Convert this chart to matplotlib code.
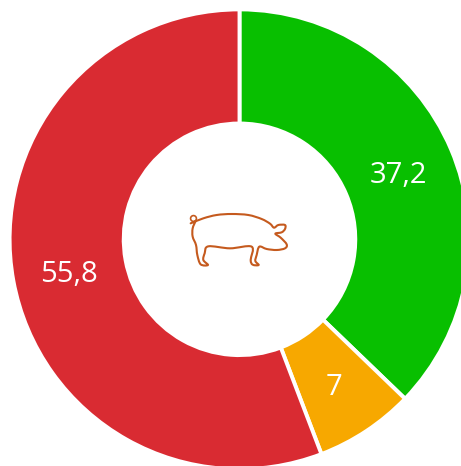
import math
import matplotlib
matplotlib.use("Agg")
import matplotlib.pyplot as plt
from matplotlib.path import Path
from matplotlib.patches import PathPatch

values = [37.2, 7, 55.8]
value_labels = ["37,2", "7", "55,8"]
colors = ["#08BF00", "#F7A800", "#D92B32"]

W, H = 461, 466
fig = plt.figure(figsize=(W / 100, H / 100), dpi=100, facecolor="white")
ax = fig.add_axes([0, 0, 1, 1])

cx, cy, R, r = 239.5, H - 239.3, 229.9, 115.8
ax.pie(
    values, colors=colors, startangle=90, counterclock=False,
    center=(cx, cy), radius=R, frame=True,
    wedgeprops=dict(width=R - r, edgecolor="white", linewidth=2.8),
)
ax.set_xlim(0, W)
ax.set_ylim(0, H)
ax.set_aspect("equal")
ax.axis("off")

cum = 0
for v, lab in zip(values, value_labels):
    a = math.radians((cum + v / 2) / sum(values) * 360)
    cum += v
    ax.text(cx + 173 * math.sin(a) - 0.5, cy + 173 * math.cos(a) - 4.2, lab,
            color="white", fontsize=21, family="Open Sans",
            ha="center", va="center")

# pig icon outline, traced in the reference's pixel coordinates
def P(x, y):
    return (170 + x / 3, H - (195 + y / 3))

def smooth(points):
    pts = [P(*p) for p in points]
    verts, codes = [pts[0]], [Path.MOVETO]
    for i in range(len(pts) - 1):
        p0 = pts[max(i - 1, 0)]
        p1, p2 = pts[i], pts[i + 1]
        p3 = pts[min(i + 2, len(pts) - 1)]
        c1 = (p1[0] + (p2[0] - p0[0]) / 6, p1[1] + (p2[1] - p0[1]) / 6)
        c2 = (p2[0] - (p3[0] - p1[0]) / 6, p2[1] - (p3[1] - p1[1]) / 6)
        verts += [c1, c2, p2]
        codes += [Path.CURVE4] * 3
    return Path(verts, codes)

body = [
    (62, 85), (100, 70), (140, 60), (185, 57), (235, 60), (275, 72), (300, 86), (312, 98),
    (325, 90), (345, 90), (345, 102), (335, 112), (316, 116), (332, 128), (350, 148),
    (345, 160), (320, 165), (290, 162), (268, 155), (260, 180), (256, 198), (266, 210),
    (248, 209), (242, 195), (245, 155), (180, 160), (115, 154), (104, 175), (100, 195),
    (114, 210), (92, 208), (82, 180), (78, 150), (68, 125), (68, 100), (77, 78),
]
pig = "#C55A1E"
ax.add_patch(PathPatch(smooth(body), fill=False, edgecolor=pig, linewidth=1.5,
                       joinstyle="round", capstyle="round"))
tail_x, tail_y = P(68, 68)
ax.plot([tail_x], [tail_y], marker="o", ms=4.2, mfc="none", mec=pig, mew=1.2)

fig.savefig("out.png", dpi=100, facecolor="white")
